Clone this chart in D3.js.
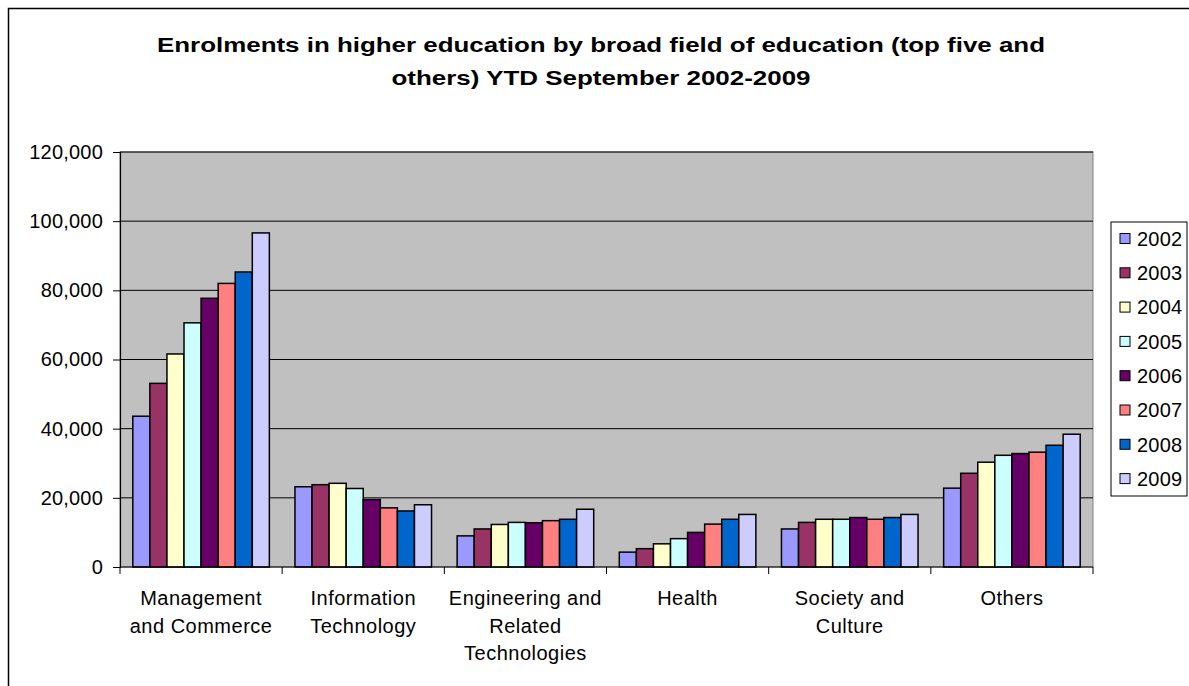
<!DOCTYPE html>
<html>
<head>
<meta charset="utf-8">
<script src="https://cdnjs.cloudflare.com/ajax/libs/d3/7.8.5/d3.min.js"></script>
<style>
  body { margin: 0; background: #fff; }
  text { font-family: Arial, "Liberation Sans", sans-serif; fill: #000; }
</style>
</head>
<body>
<div id="chart"></div>
<script>
// Data
const categories = ["Management and Commerce", "Information Technology", "Engineering and Related Technologies", "Health", "Society and Culture", "Others"];
const categoryLines = [["Management", "and Commerce"], ["Information", "Technology"], ["Engineering and", "Related", "Technologies"], ["Health"], ["Society and", "Culture"], ["Others"]];
const years = ["2002", "2003", "2004", "2005", "2006", "2007", "2008", "2009"];
const v2002 = [43600, 23200, 9000, 4300, 11000, 22800];
const v2003 = [53100, 23800, 11000, 5300, 12900, 27100];
const v2004 = [61600, 24200, 12300, 6700, 13800, 30300];
const v2005 = [70600, 22700, 12900, 8200, 13800, 32300];
const v2006 = [77700, 19500, 12800, 10000, 14300, 32800];
const v2007 = [82000, 17100, 13400, 12400, 13800, 33200];
const v2008 = [85300, 16200, 13800, 13800, 14300, 35200];
const v2009 = [96600, 18000, 16700, 15200, 15200, 38400];
const colors = ["#9999FF", "#993366", "#FFFFCC", "#CCFFFF", "#660066", "#FF8080", "#0066CC", "#CCCCFF"];
const yTicks = [0, 20000, 40000, 60000, 80000, 100000, 120000];
const titleLines = ["Enrolments in higher education by broad field of education (top five and", "others) YTD September 2002-2009"];
const titleWidths = [888, 419];

const series = [v2002, v2003, v2004, v2005, v2006, v2007, v2008, v2009];

// SVG variables
let svgWidth = 1189;
let svgHeight = 686;
let plot = { left: 120, right: 1093, top: 152, bottom: 567 };
let labelFont = "20px";
let labelSpacing = "0.5px";

let svg = d3.select("#chart").append("svg")
    .attr("width", svgWidth)
    .attr("height", svgHeight);

// outer chart border (right / bottom fall outside the picture)
svg.append("rect")
    .attr("x", 8.5).attr("y", 8.5)
    .attr("width", 1200).attr("height", 700)
    .attr("fill", "#fff").attr("stroke", "#000").attr("stroke-width", 1.5);

// title
svg.append("g").selectAll("text").data(titleLines).enter().append("text")
    .attr("text-anchor", "middle")
    .attr("x", 601)
    .attr("y", (d, i) => 52 + i * 33)
    .attr("textLength", (d, i) => titleWidths[i])
    .attr("lengthAdjust", "spacingAndGlyphs")
    .style("font-size", "21px").style("font-weight", "bold")
    .text(d => d);

let x0 = d3.scaleBand().domain(categories).range([plot.left, plot.right]).padding(0);
let x1 = d3.scaleBand().domain(years).range([0, x0.bandwidth()]).paddingInner(0).paddingOuter(0.75);
let y = d3.scaleLinear().domain([0, 120000]).range([plot.bottom, plot.top]);

// plot area
svg.append("rect")
    .attr("x", plot.left).attr("y", plot.top)
    .attr("width", plot.right - plot.left).attr("height", plot.bottom - plot.top)
    .attr("fill", "#C0C0C0").attr("stroke", "#808080").attr("stroke-width", 1);

// gridlines
svg.append("g").selectAll("line").data(yTicks.slice(1)).enter().append("line")
    .attr("x1", plot.left).attr("x2", plot.right)
    .attr("y1", d => y(d)).attr("y2", d => y(d))
    .attr("stroke", "#000").attr("stroke-width", 1);

// y axis
let yAxis = svg.append("g")
    .attr("transform", `translate(${plot.left},0)`)
    .call(d3.axisLeft(y).tickValues(yTicks).tickFormat(d3.format(",")).tickSize(7).tickPadding(10));
yAxis.select(".domain").attr("stroke", "#000").attr("stroke-width", 1.2);
yAxis.selectAll(".tick line").attr("stroke", "#000");
yAxis.selectAll("text").style("font-size", labelFont).style("letter-spacing", "0.2px").attr("fill", "#000");

// bars
let groups = svg.append("g").selectAll("g")
    .data(categories).enter().append("g")
    .attr("transform", d => `translate(${x0(d)},0)`);

groups.selectAll("rect")
    .data((d, ci) => years.map((yr, si) => ({ yr: yr, si: si, value: series[si][ci] })))
    .enter().append("rect")
    .attr("x", d => x1(d.yr))
    .attr("y", d => y(d.value))
    .attr("width", x1.bandwidth())
    .attr("height", d => y(0) - y(d.value))
    .attr("fill", d => colors[d.si])
    .attr("stroke", "#000")
    .attr("stroke-width", 1.5);

// x axis
let xAxis = svg.append("g").attr("transform", `translate(0,${plot.bottom})`);
xAxis.append("line")
    .attr("x1", plot.left).attr("x2", plot.right)
    .attr("stroke", "#000").attr("stroke-width", 1.2);
let bounds = categories.map(c => x0(c)).concat([plot.right]);
xAxis.selectAll(".tk").data(bounds).enter().append("line")
    .attr("x1", d => d).attr("x2", d => d)
    .attr("y1", 0).attr("y2", 7)
    .attr("stroke", "#000");

xAxis.selectAll(".lbl").data(categories).enter().append("text")
    .attr("text-anchor", "middle")
    .style("font-size", labelFont)
    .style("letter-spacing", labelSpacing)
    .each(function (d, i) {
        d3.select(this).selectAll("tspan").data(categoryLines[i]).enter().append("tspan")
            .attr("x", x0(d) + x0.bandwidth() / 2)
            .attr("y", (t, j) => 38 + j * 27.5)
            .text(t => t);
    });

// legend
let legend = svg.append("g");
legend.append("rect")
    .attr("x", 1111).attr("y", 222)
    .attr("width", 76).attr("height", 274)
    .attr("fill", "#fff").attr("stroke", "#000").attr("stroke-width", 1);

let items = legend.selectAll(".item").data(years).enter().append("g")
    .attr("transform", (d, i) => `translate(1120,${238.5 + i * 34.3})`);
items.append("rect")
    .attr("x", 0).attr("y", -5)
    .attr("width", 10).attr("height", 10)
    .attr("fill", (d, i) => colors[i])
    .attr("stroke", "#000").attr("stroke-width", 1);
items.append("text")
    .attr("x", 17).attr("y", 0).attr("dy", "0.36em")
    .style("font-size", labelFont)
    .style("letter-spacing", "0.2px")
    .text(d => d);
</script>
</body>
</html>
